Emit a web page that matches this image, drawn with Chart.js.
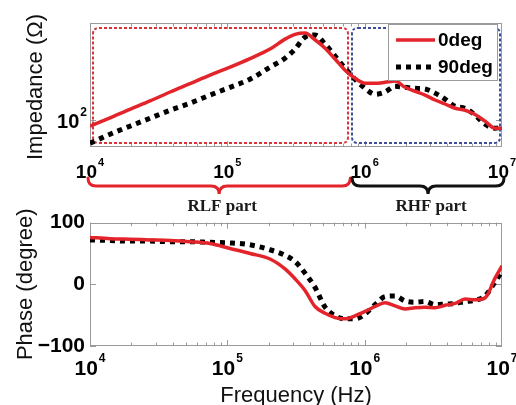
<!DOCTYPE html>
<html><head><meta charset="utf-8">
<script src="https://cdn.jsdelivr.net/npm/chart.js@4.4.1/dist/chart.umd.min.js"></script>
<style>
html,body{margin:0;padding:0;background:#fff;}
#wrap{position:relative;width:516px;height:405px;overflow:hidden;background:#fff;}
canvas{position:absolute;left:0;}
#c1{top:0;}
#c2{top:205px;}
</style></head><body>
<div id="wrap"><canvas id="c1" width="516" height="216"></canvas><canvas id="c2" width="516" height="200"></canvas></div>
<script>
// ---------- data ----------
const freq = [10000, 14000, 19500, 27400, 38300, 53500, 74800, 104700, 146300, 204600, 263000, 311000, 368000, 435000, 515000, 609000, 720000, 851000, 1007000, 1191000, 1408000, 1665000, 1968000, 2328000, 2753000, 3256000, 3850000, 4553000, 5384000, 6367000, 7530000, 8904000, 10000000];
const impedance0deg = [90.5, 104, 120, 138, 160, 184, 212, 242, 279, 327, 386, 418, 427, 382, 332, 277, 230, 201, 185, 185, 188, 192, 173, 162, 152, 140, 131, 122, 118, 110, 98.4, 87.5, 87.5];
const impedance90deg = [68.1, 79.2, 90.5, 103.4, 118, 132.8, 152, 173, 198, 242, 281, 327, 399, 413, 356, 291, 238, 198, 170, 154, 160, 176, 173, 170, 168, 157, 142, 126, 122, 109, 93.5, 87.5, 89];
const phase0deg = [76, 74, 73, 72, 71, 69, 66, 58, 50, 41, 25, 9, -10, -36, -47, -54, -56, -51, -44, -36, -30, -35, -40, -38, -37, -38, -34, -31, -24, -25, -22, 10, 30];
const phase90deg = [72, 71, 70, 70, 69, 69, 68, 67, 64, 56, 47, 37, 18, -5, -37, -51, -56, -56, -48, -33, -20, -19, -27, -29, -28, -33, -32, -31, -28, -26, -19, 4, 21];
const seriesNames = ['0deg', '90deg'];
const xTickValues = [1e4, 1e5, 1e6, 1e7];
const xTickExponents = ['4', '5', '6', '7'];
const zTickValues = [100];
const zTickExponents = ['2'];
const phaseTicks = [-100, 0, 100];
const partNames = ['RLF part', 'RHF part'];
const partBounds = [[1e4, 7.6e5], [8.1e5, 1e7]];

// ---------- styles ----------
const FONT = '"Liberation Sans", Arial, sans-serif';
const RED = '#e3242b';
const BLACK = '#000000';
const partColors = ['#d8343a', '#3d4f9a'];
const braceColors = ['#e3242b', '#111111'];

function mkData(ys) { return freq.map((f, i) => ({x: f, y: ys[i]})); }
function dsRed(ys) { return {label: seriesNames[0], data: mkData(ys), borderColor: RED, borderWidth: 3.5, pointRadius: 0, cubicInterpolationMode: 'monotone', fill: false}; }
function dsBlack(ys) { return {label: seriesNames[1], data: mkData(ys), borderColor: BLACK, borderWidth: 5, borderDash: [5, 5], borderCapStyle: 'butt', pointRadius: 0, cubicInterpolationMode: 'monotone', fill: false}; }

function drawPow(ctx, x, yBase, exp, big, sup, align) {
  ctx.save();
  ctx.fillStyle = '#000';
  ctx.textBaseline = 'alphabetic';
  ctx.textAlign = 'left';
  ctx.font = `bold ${big}px ${FONT}`;
  const w1 = ctx.measureText('10').width;
  ctx.font = `bold ${sup}px ${FONT}`;
  const w2 = ctx.measureText(exp).width;
  const total = w1 + 1 + w2;
  const x0 = align === 'right' ? x - total : x - total / 2;
  ctx.font = `bold ${big}px ${FONT}`;
  ctx.fillText('10', x0, yBase);
  ctx.font = `bold ${sup}px ${FONT}`;
  ctx.fillText(exp, x0 + w1 + 1, yBase - big * 0.62);
  ctx.restore();
}

function drawFrameAndTicks(chart, logY) {
  const ctx = chart.ctx, ca = chart.chartArea, xs = chart.scales.x, ys = chart.scales.y;
  ctx.save();
  ctx.strokeStyle = '#9a9a9a';
  ctx.lineWidth = 1;
  ctx.beginPath();
  for (let d = 4; d < 7; d++) {
    for (let m = 1; m < 10; m++) {
      const px = Math.round(xs.getPixelForValue(m * Math.pow(10, d))) + 0.5;
      const len = m === 1 ? 6 : 3.5;
      ctx.moveTo(px, ca.bottom); ctx.lineTo(px, ca.bottom - len);
      ctx.moveTo(px, ca.top); ctx.lineTo(px, ca.top + len);
    }
  }
  const yt = logY ? zTickValues : phaseTicks;
  yt.forEach(v => {
    const py = Math.round(ys.getPixelForValue(v)) + 0.5;
    ctx.moveTo(ca.left, py); ctx.lineTo(ca.left + 6, py);
    ctx.moveTo(ca.right, py); ctx.lineTo(ca.right - 6, py);
  });
  ctx.stroke();
  ctx.strokeRect(Math.round(ca.left) + 0.5, Math.round(ca.top) + 0.5, Math.round(ca.right - ca.left) - 1, Math.round(ca.bottom - ca.top) - 1);
  ctx.restore();
}

function roundRectPath(ctx, x, y, w, h, r) {
  ctx.beginPath();
  ctx.moveTo(x + r, y);
  ctx.lineTo(x + w - r, y);
  ctx.quadraticCurveTo(x + w, y, x + w, y + r);
  ctx.lineTo(x + w, y + h - r);
  ctx.quadraticCurveTo(x + w, y + h, x + w - r, y + h);
  ctx.lineTo(x + r, y + h);
  ctx.quadraticCurveTo(x, y + h, x, y + h - r);
  ctx.lineTo(x, y + r);
  ctx.quadraticCurveTo(x, y, x + r, y);
  ctx.closePath();
}

const topPlugin = {
  id: 'topDecor',
  beforeDatasetsDraw(chart) {
    const ctx = chart.ctx, ca = chart.chartArea, xs = chart.scales.x;
    drawFrameAndTicks(chart, true);
    partBounds.forEach((b, i) => {
      const x1 = Math.round(xs.getPixelForValue(b[0]) + (i === 0 ? 3 : 0));
      const x2 = Math.round(xs.getPixelForValue(b[1]) - (i === 1 ? 2 : 0));
      ctx.save();
      ctx.strokeStyle = partColors[i];
      ctx.lineWidth = 2;
      ctx.setLineDash([3, 2]);
      roundRectPath(ctx, x1, Math.round(ca.top) + 5, x2 - x1, Math.round(ca.bottom - ca.top) - 9, 6);
      ctx.stroke();
      ctx.restore();
    });
  },
  afterDraw(chart) {
    const ctx = chart.ctx, ca = chart.chartArea, xs = chart.scales.x, ys = chart.scales.y;
    xTickValues.forEach((v, i) => drawPow(ctx, xs.getPixelForValue(v), 178, xTickExponents[i], 19, 11, 'center'));
    zTickValues.forEach((v, i) => drawPow(ctx, ca.left - 3, ys.getPixelForValue(v) + 8, zTickExponents[i], 20, 12, 'right'));
    ctx.save();
    ctx.translate(36, (ca.top + ca.bottom) / 2 + 2);
    ctx.rotate(-Math.PI / 2);
    ctx.font = `22px ${FONT}`;
    ctx.fillStyle = '#111';
    ctx.textAlign = 'center';
    ctx.textBaseline = 'middle';
    ctx.fillText('Impedance (\u03A9)', 0, 0);
    ctx.restore();
    partBounds.forEach((b, i) => {
      const x1 = xs.getPixelForValue(b[0]) - 2 + (i === 1 ? 2 : 0);
      const x2 = xs.getPixelForValue(b[1]) + 2;
      const xm = (x1 + x2) / 2;
      const y0 = 178, y1 = 186, y2 = 194, r = 8;
      ctx.save();
      ctx.strokeStyle = braceColors[i];
      ctx.lineWidth = 3;
      ctx.lineCap = 'round';
      ctx.beginPath();
      ctx.moveTo(x1, y0);
      ctx.quadraticCurveTo(x1, y1, x1 + r, y1);
      ctx.lineTo(xm - r, y1);
      ctx.quadraticCurveTo(xm, y1, xm, y2);
      ctx.quadraticCurveTo(xm, y1, xm + r, y1);
      ctx.lineTo(x2 - r, y1);
      ctx.quadraticCurveTo(x2, y1, x2, y0);
      ctx.stroke();
      ctx.font = 'bold 17px "Liberation Serif", "Times New Roman", serif';
      ctx.fillStyle = '#1a1a1a';
      ctx.textAlign = 'center';
      ctx.textBaseline = 'alphabetic';
      ctx.fillText(partNames[i], xm + 3, 211);
      ctx.restore();
    });
    const lx = 388, ly = 24, lw = 109, lh = 56;
    ctx.save();
    ctx.fillStyle = '#fff';
    ctx.fillRect(lx, ly, lw, lh);
    ctx.strokeStyle = '#9a9a9a';
    ctx.lineWidth = 1;
    ctx.strokeRect(lx + 0.5, ly + 0.5, lw, lh);
    chart.data.datasets.forEach((ds, i) => {
      const yy = ly + 16 + i * 27;
      ctx.strokeStyle = ds.borderColor;
      ctx.lineWidth = ds.borderWidth;
      ctx.setLineDash(ds.borderDash || []);
      ctx.lineCap = 'butt';
      ctx.beginPath();
      ctx.moveTo(396, yy); ctx.lineTo(435, yy);
      ctx.stroke();
      ctx.setLineDash([]);
      ctx.font = `bold 19px ${FONT}`;
      ctx.fillStyle = '#000';
      ctx.textAlign = 'left';
      ctx.textBaseline = 'middle';
      ctx.fillText(ds.label, 438, yy + 1);
    });
    ctx.restore();
  }
};

const bottomPlugin = {
  id: 'bottomDecor',
  beforeDatasetsDraw(chart) { drawFrameAndTicks(chart, false); },
  afterDraw(chart) {
    const ctx = chart.ctx, ca = chart.chartArea, xs = chart.scales.x;
    xTickValues.forEach((v, i) => drawPow(ctx, xs.getPixelForValue(v), 170, xTickExponents[i], 21, 12, 'center'));
    ctx.save();
    ctx.font = `22px ${FONT}`;
    ctx.fillStyle = '#111';
    ctx.textAlign = 'center';
    ctx.textBaseline = 'alphabetic';
    ctx.fillText('Frequency (Hz)', (ca.left + ca.right) / 2, 197);
    ctx.translate(26, (ca.top + ca.bottom) / 2);
    ctx.rotate(-Math.PI / 2);
    ctx.textBaseline = 'middle';
    ctx.fillText('Phase (degree)', 0, 0);
    ctx.restore();
  }
};

const common = {
  responsive: false,
  animation: false,
  events: [],
  plugins: {legend: {display: false}, tooltip: {enabled: false}, title: {display: false}}
};

new Chart(document.getElementById('c1'), {
  type: 'line',
  data: {datasets: [dsRed(impedance0deg), dsBlack(impedance90deg)]},
  options: Object.assign({}, common, {
    layout: {padding: {top: 23, right: 14, left: 0, bottom: 0}},
    scales: {
      x: {type: 'logarithmic', min: 1e4, max: 1e7, ticks: {display: false}, grid: {display: false, drawTicks: false}, border: {display: false},
          afterFit: s => { s.height = 216 - 147; }},
      y: {type: 'logarithmic', min: 64, max: 505, ticks: {display: false}, grid: {display: false, drawTicks: false}, border: {display: false},
          afterFit: s => { s.width = 90; }}
    }
  }),
  plugins: [topPlugin]
});

new Chart(document.getElementById('c2'), {
  type: 'line',
  data: {datasets: [dsRed(phase0deg), dsBlack(phase90deg)]},
  options: Object.assign({}, common, {
    layout: {padding: {top: 16, right: 14, left: 0, bottom: 0}},
    scales: {
      x: {type: 'logarithmic', min: 1e4, max: 1e7, ticks: {display: false}, grid: {display: false, drawTicks: false}, border: {display: false},
          afterFit: s => { s.height = 200 - 141; }},
      y: {type: 'linear', min: -100, max: 100,
          afterBuildTicks: s => { s.ticks = phaseTicks.map(v => ({value: v})); },
          ticks: {color: '#000', padding: 5, font: {family: FONT, size: 21, weight: 'bold'},
                  callback: v => String(v).replace('-', '\u2212')},
          grid: {display: false, drawTicks: false}, border: {display: false},
          afterFit: s => { s.width = 90; }}
    }
  }),
  plugins: [bottomPlugin]
});
</script>
</body></html>
